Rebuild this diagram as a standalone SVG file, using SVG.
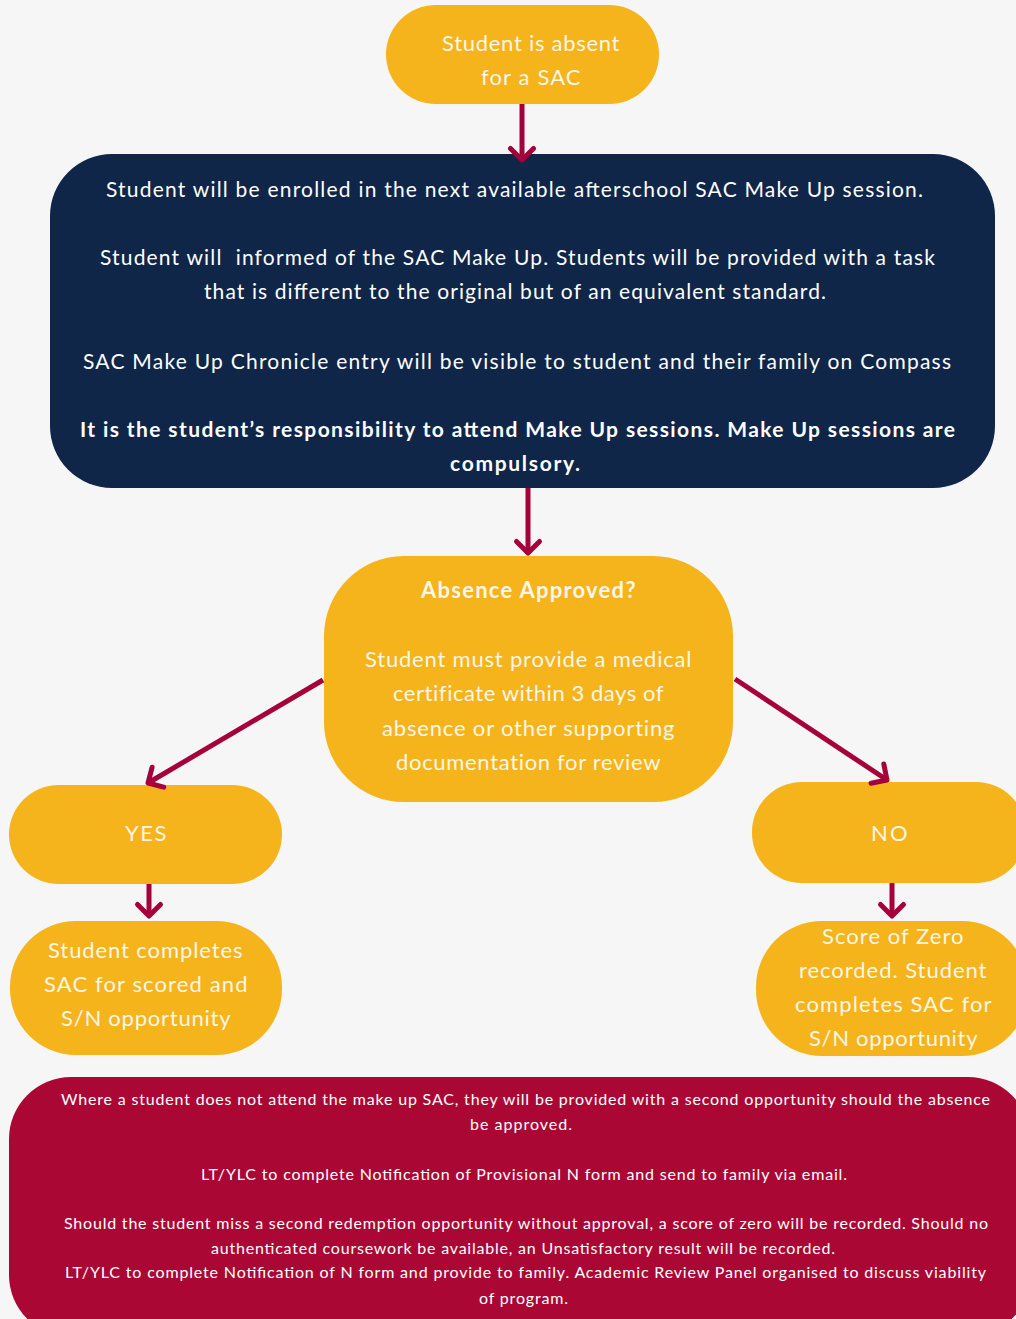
<svg xmlns="http://www.w3.org/2000/svg" width="1016" height="1319" viewBox="0 0 1016 1319">
<style>
.y{fill:#f5b31c}
.n{fill:#0f2649}
.r{fill:#ab0735}
.t{font-family:"Lato","Noto Sans",sans-serif;fill:#fff;text-anchor:middle}
.ty{font-size:22px;fill:#fdf6e6;letter-spacing:0.5px}
.tn{font-size:21px}
.tb{font-weight:bold}
.tr{font-size:16px}
.c{stroke:#a6003a;stroke-width:5;fill:none}
</style>
<defs>
<marker id="ah" markerUnits="userSpaceOnUse" viewBox="-18 -17 22 34" refX="0" refY="0" markerWidth="22" markerHeight="34" orient="auto">
<path d="M-11.5,-11.5 L0,0 L-11.5,11.5" fill="none" stroke="#a6003a" stroke-width="5" stroke-linecap="round" stroke-linejoin="round"/>
</marker>
</defs>
<rect width="1016" height="1319" fill="#f6f6f6"/>
<g id="n-start">
<rect class="y" x="386" y="5" width="273" height="99" rx="50"/>
<text class="t ty" x="531" y="51" textLength="178">Student is absent</text>
<text class="t ty" x="531" y="85" textLength="100">for a SAC</text>
</g>
<g id="n-makeup">
<rect class="n" x="50" y="154" width="945" height="334" rx="62"/>
<text class="t tn" x="514.5" y="197" textLength="817">Student will be enrolled in the next available afterschool SAC Make Up session.</text>
<text class="t tn" x="517.5" y="265" textLength="835" xml:space="preserve">Student will  informed of the SAC Make Up. Students will be provided with a task</text>
<text class="t tn" x="515" y="299" textLength="622">that is different to the original but of an equivalent standard.</text>
<text class="t tn" x="517" y="369" textLength="868">SAC Make Up Chronicle entry will be visible to student and their family on Compass</text>
<text class="t tn tb" x="517.5" y="437" textLength="875">It is the student’s responsibility to attend Make Up sessions. Make Up sessions are</text>
<text class="t tn tb" x="515" y="471" textLength="130">compulsory.</text>
</g>
<g id="n-approved">
<rect class="y" x="324" y="556" width="409" height="246" rx="80"/>
<text class="t ty tb" x="528.5" y="598" textLength="215">Absence Approved?</text>
<text class="t ty" x="528.5" y="667" textLength="327">Student must provide a medical</text>
<text class="t ty" x="528.5" y="701" textLength="271">certificate within 3 days of</text>
<text class="t ty" x="528.5" y="736" textLength="293">absence or other supporting</text>
<text class="t ty" x="528.5" y="770" textLength="265">documentation for review</text>
</g>
<g id="n-yes">
<rect class="y" x="9" y="785" width="273" height="99" rx="50"/>
<text class="t ty" x="146" y="841" textLength="42">YES</text>
</g>
<g id="n-no">
<rect class="y" x="752" y="782" width="274" height="101" rx="50"/>
<text class="t ty" x="889.5" y="841" textLength="37">NO</text>
</g>
<g id="n-completes">
<rect class="y" x="10" y="921" width="272" height="134" rx="66"/>
<text class="t ty" x="145.5" y="958" textLength="195">Student completes</text>
<text class="t ty" x="146" y="992" textLength="204">SAC for scored and</text>
<text class="t ty" x="146" y="1026" textLength="170">S/N opportunity</text>
</g>
<g id="n-zero">
<rect class="y" x="756" y="921" width="272" height="135" rx="66"/>
<text class="t ty" x="893" y="944" textLength="142">Score of Zero</text>
<text class="t ty" x="893" y="978" textLength="188">recorded. Student</text>
<text class="t ty" x="893.5" y="1012" textLength="197">completes SAC for</text>
<text class="t ty" x="893.5" y="1046" textLength="169">S/N opportunity</text>
</g>
<g id="n-note">
<rect class="r" x="9" y="1077" width="1021" height="260" rx="62"/>
<text class="t tr" x="525.5" y="1105" textLength="929">Where a student does not attend the make up SAC, they will be provided with a second opportunity should the absence</text>
<text class="t tr" x="521" y="1130" textLength="102">be approved.</text>
<text class="t tr" x="524" y="1180" textLength="646">LT/YLC to complete Notification of Provisional N form and send to family via email.</text>
<text class="t tr" x="526" y="1229" textLength="924">Should the student miss a second redemption opportunity without approval, a score of zero will be recorded. Should no</text>
<text class="t tr" x="523" y="1254" textLength="624">authenticated coursework be available, an Unsatisfactory result will be recorded.</text>
<text class="t tr" x="525.5" y="1278" textLength="921">LT/YLC to complete Notification of N form and provide to family. Academic Review Panel organised to discuss viability</text>
<text class="t tr" x="523.5" y="1304" textLength="89">of program.</text>
</g>
<g id="connectors">
<line class="c" x1="522" y1="104" x2="522" y2="160" marker-end="url(#ah)"/>
<line class="c" x1="528" y1="488" x2="528" y2="553" marker-end="url(#ah)"/>
<line class="c" x1="323" y1="680" x2="148" y2="783" marker-end="url(#ah)"/>
<line class="c" x1="735" y1="679" x2="887" y2="780" marker-end="url(#ah)"/>
<line class="c" x1="149" y1="884" x2="149" y2="916" marker-end="url(#ah)"/>
<line class="c" x1="892" y1="883" x2="892" y2="916" marker-end="url(#ah)"/>
</g>
</svg>
